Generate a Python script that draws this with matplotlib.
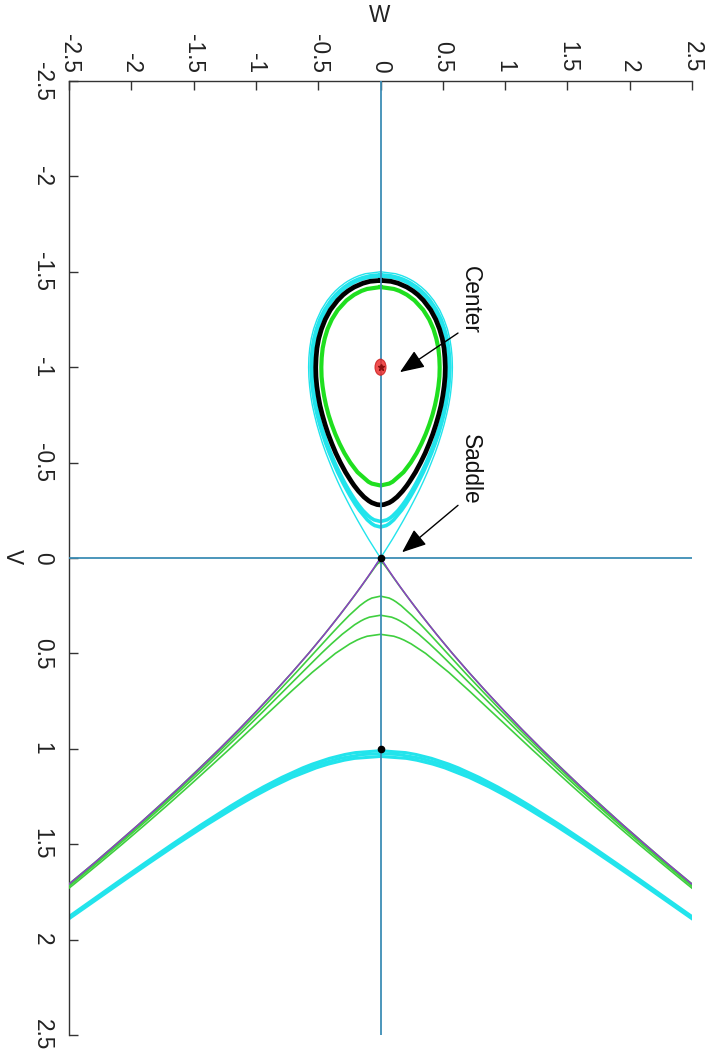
import numpy as np
import matplotlib
matplotlib.use('Agg')
import matplotlib.pyplot as plt
from matplotlib.patches import Ellipse

plt.rcParams['font.family'] = ['Liberation Sans', 'DejaVu Sans']

# ---- data (V down the page, W across) ----
TICKS = [-2.5, -2, -1.5, -1, -0.5, 0, 0.5, 1, 1.5, 2, 2.5]
TICK_LABELS = ['-2.5', '-2', '-1.5', '-1', '-0.5', '0', '0.5', '1', '1.5', '2', '2.5']

# closed orbits around the center (W >= 0 half, mirrored for W <= 0)
GREEN_LOOP_V = [-1.42, -1.41, -1.40, -1.38, -1.35, -1.30, -1.25, -1.20, -1.15, -1.10, -1.05, -1.00,
                -0.95, -0.90, -0.85, -0.80, -0.75, -0.70, -0.65, -0.60, -0.55, -0.50, -0.45, -0.40,
                -0.39, -0.38]
GREEN_LOOP_W = [0.0, 0.108, 0.152, 0.211, 0.273, 0.343, 0.391, 0.425, 0.448, 0.464, 0.472, 0.475,
                0.473, 0.465, 0.453, 0.437, 0.417, 0.392, 0.363, 0.329, 0.290, 0.243, 0.185, 0.098,
                0.070, 0.0]

BLACK_LOOP_V = [-1.455, -1.45, -1.44, -1.42, -1.40, -1.38, -1.35, -1.30, -1.25, -1.20, -1.15, -1.10,
                -1.05, -1.00, -0.95, -0.90, -0.85, -0.80, -0.75, -0.70, -0.65, -0.60, -0.55, -0.50,
                -0.45, -0.40, -0.38, -0.35, -0.32, -0.30, -0.29, -0.28, -0.278]
BLACK_LOOP_W = [0.0, 0.084, 0.141, 0.211, 0.260, 0.299, 0.345, 0.403, 0.444, 0.474, 0.496, 0.510,
                0.517, 0.520, 0.518, 0.511, 0.500, 0.486, 0.467, 0.445, 0.420, 0.391, 0.359, 0.322,
                0.281, 0.233, 0.212, 0.176, 0.133, 0.095, 0.070, 0.028, 0.0]

CYAN_LOOP_A_V = [-1.478, -1.47, -1.46, -1.45, -1.44, -1.42, -1.40, -1.38, -1.35, -1.30, -1.25, -1.20,
                 -1.15, -1.10, -1.05, -1.00, -0.95, -0.90, -0.85, -0.80, -0.75, -0.70, -0.65, -0.60,
                 -0.55, -0.50, -0.45, -0.40, -0.38, -0.35, -0.32, -0.30, -0.28, -0.25, -0.22, -0.21,
                 -0.20, -0.1915]
CYAN_LOOP_A_W = [0.0, 0.106, 0.158, 0.195, 0.226, 0.275, 0.314, 0.347, 0.388, 0.440, 0.478, 0.506,
                 0.526, 0.539, 0.547, 0.549, 0.547, 0.540, 0.530, 0.516, 0.499, 0.479, 0.455, 0.429,
                 0.399, 0.367, 0.331, 0.292, 0.275, 0.249, 0.220, 0.200, 0.178, 0.142, 0.096, 0.077,
                 0.052, 0.0]

CYAN_LOOP_B_V = [-1.484, -1.48, -1.47, -1.46, -1.45, -1.44, -1.42, -1.40, -1.38, -1.35, -1.30, -1.25,
                 -1.20, -1.15, -1.10, -1.05, -1.00, -0.95, -0.90, -0.85, -0.80, -0.75, -0.70, -0.65,
                 -0.60, -0.55, -0.50, -0.45, -0.40, -0.38, -0.35, -0.32, -0.30, -0.28, -0.25, -0.20,
                 -0.18, -0.17, -0.1625]
CYAN_LOOP_B_W = [0.0, 0.076, 0.140, 0.183, 0.216, 0.244, 0.290, 0.327, 0.359, 0.398, 0.449, 0.487,
                 0.514, 0.534, 0.547, 0.554, 0.557, 0.554, 0.548, 0.538, 0.525, 0.508, 0.488, 0.465,
                 0.439, 0.410, 0.378, 0.344, 0.306, 0.290, 0.265, 0.239, 0.220, 0.201, 0.169, 0.106,
                 0.071, 0.046, 0.0]

# separatrix loop through the saddle (thin cyan), crossing just past it
SEP_V = [-1.50, -1.49, -1.48, -1.47, -1.46, -1.45, -1.44, -1.42, -1.40, -1.38, -1.35, -1.30, -1.25,
         -1.20, -1.15, -1.10, -1.05, -1.00, -0.95, -0.90, -0.85, -0.80, -0.75, -0.70, -0.65, -0.60,
         -0.55, -0.50, -0.45, -0.40, -0.35, -0.30, -0.25, -0.20, -0.15, -0.10, -0.05, 0.0, 0.04]
SEP_W = [0.0, 0.122, 0.171, 0.208, 0.238, 0.265, 0.288, 0.328, 0.362, 0.390, 0.427, 0.475, 0.510,
         0.537, 0.556, 0.568, 0.575, 0.577, 0.575, 0.569, 0.560, 0.547, 0.530, 0.511, 0.489, 0.465,
         0.438, 0.408, 0.377, 0.343, 0.307, 0.268, 0.228, 0.186, 0.142, 0.097, 0.049, 0.0, -0.041]

# open trajectories below the saddle (W >= 0 half, mirrored)
PURPLE_V = [0.0, 0.05, 0.10, 0.15, 0.20, 0.25, 0.30, 0.35, 0.40, 0.45, 0.50, 0.60, 0.70, 0.80, 0.90,
            1.00, 1.10, 1.20, 1.30, 1.40, 1.50, 1.60, 1.70, 1.80]
PURPLE_W = [0.0, 0.051, 0.103, 0.157, 0.213, 0.270, 0.329, 0.389, 0.450, 0.513, 0.577, 0.710, 0.848,
            0.991, 1.138, 1.291, 1.448, 1.610, 1.776, 1.947, 2.121, 2.300, 2.483, 2.670]

GREEN_A_V = [0.02, 0.03, 0.05, 0.10, 0.15, 0.20, 0.30, 0.40, 0.50, 0.60, 0.70, 0.80, 0.90, 1.00, 1.20,
             1.40, 1.60, 1.80]
GREEN_A_W = [0.0, 0.023, 0.047, 0.101, 0.156, 0.212, 0.328, 0.450, 0.577, 0.710, 0.848, 0.990, 1.138,
             1.291, 1.610, 1.947, 2.300, 2.670]

GREEN_B_V = [0.20, 0.21, 0.22, 0.23, 0.25, 0.30, 0.35, 0.40, 0.45, 0.50, 0.60, 0.70, 0.80, 0.90, 1.00,
             1.10, 1.20, 1.30, 1.40, 1.50, 1.60, 1.70, 1.80]
GREEN_B_W = [0.0, 0.070, 0.101, 0.125, 0.166, 0.250, 0.325, 0.397, 0.467, 0.537, 0.677, 0.821, 0.968,
             1.118, 1.273, 1.433, 1.596, 1.763, 1.935, 2.111, 2.290, 2.474, 2.661]

GREEN_C_V = [0.30, 0.31, 0.32, 0.33, 0.35, 0.40, 0.45, 0.50, 0.60, 0.70, 0.80, 0.90, 1.00, 1.10, 1.20,
             1.30, 1.40, 1.50, 1.60, 1.70, 1.80]
GREEN_C_W = [0.0, 0.089, 0.128, 0.158, 0.208, 0.308, 0.394, 0.475, 0.629, 0.782, 0.935, 1.090, 1.249,
             1.410, 1.576, 1.746, 1.919, 2.096, 2.277, 2.461, 2.650]

GREEN_D_V = [0.40, 0.41, 0.42, 0.43, 0.45, 0.50, 0.60, 0.70, 0.80, 0.90, 1.00, 1.10, 1.20, 1.30, 1.40,
             1.50, 1.60, 1.70, 1.80]
GREEN_D_W = [0.0, 0.107, 0.152, 0.188, 0.246, 0.362, 0.549, 0.718, 0.882, 1.046, 1.210, 1.377, 1.546,
             1.718, 1.894, 2.073, 2.256, 2.442, 2.632]

CYAN_LOW_A_V = [1.01, 1.02, 1.03, 1.05, 1.08, 1.10, 1.15, 1.20, 1.25, 1.30, 1.40, 1.50, 1.60, 1.70,
                1.80, 1.90]
CYAN_LOW_A_W = [0.0, 0.202, 0.287, 0.409, 0.547, 0.625, 0.793, 0.941, 1.076, 1.203, 1.443, 1.671,
                1.893, 2.112, 2.328, 2.545]

CYAN_LOW_B_V = [1.025, 1.03, 1.05, 1.08, 1.10, 1.15, 1.20, 1.25, 1.30, 1.40, 1.50, 1.60, 1.70, 1.80,
                1.90]
CYAN_LOW_B_W = [0.0, 0.144, 0.325, 0.488, 0.573, 0.754, 0.907, 1.047, 1.177, 1.422, 1.653, 1.877,
                2.097, 2.315, 2.533]

CYAN_LOW_C_V = [1.04, 1.05, 1.06, 1.08, 1.10, 1.15, 1.20, 1.25, 1.30, 1.40, 1.50, 1.60, 1.70, 1.80,
                1.90]
CYAN_LOW_C_W = [0.0, 0.207, 0.293, 0.418, 0.516, 0.711, 0.872, 1.016, 1.150, 1.399, 1.634, 1.860,
                2.082, 2.301, 2.520]

# equilibrium / start points (W, V)
CENTER_PT = (0.0, -1.0)
BLACK_DOTS_W = [0.0, 0.0]
BLACK_DOTS_V = [0.0, 1.0]

# annotations: (text, text pos, arrow tail, arrow head) in (W, V)
NOTES = [
    ('Center', (0.72, -1.351), (0.622, -1.179), (0.156, -0.974)),
    ('Saddle', (0.72, -0.465), (0.622, -0.276), (0.173, -0.030)),
]

CYAN = '#22e4ec'
GREEN = '#1fdf1f'
GREEN_THIN = '#3fcf3f'
PURPLE = '#8d3cc4'
AXLINE = '#3d8db5'
FS = 16.3


def loop_xy(v, w):
    v = np.asarray(v)
    w = np.asarray(w)
    x = np.concatenate([w, -w[::-1]])
    y = np.concatenate([v, v[::-1]])
    return x, y


def open_xy(v, w):
    v = np.asarray(v)
    w = np.asarray(w)
    x = np.concatenate([-w[::-1], w])
    y = np.concatenate([v[::-1], v])
    return x, y


fig = plt.figure(figsize=(7.08, 10.54), dpi=100)
ax = fig.add_axes([69 / 708, 19 / 1054, 623 / 708, 954 / 1054])

# loops around the center
for v, w in [(CYAN_LOOP_B_V, CYAN_LOOP_B_W), (CYAN_LOOP_A_V, CYAN_LOOP_A_W)]:
    x, y = loop_xy(v, w)
    ax.plot(x, y, color=CYAN, lw=2.6, zorder=2)
sv = np.asarray(SEP_V)
sw = np.asarray(SEP_W)
ax.plot(sw, sv, color=CYAN, lw=1.0, zorder=2)
ax.plot(-sw, sv, color=CYAN, lw=1.0, zorder=2)

x, y = loop_xy(BLACK_LOOP_V, BLACK_LOOP_W)
ax.plot(x, y, color='black', lw=3.4, zorder=3)
x, y = loop_xy(GREEN_LOOP_V, GREEN_LOOP_W)
ax.plot(x, y, color=GREEN, lw=3.0, zorder=3)

# open trajectories
for v, w in [(CYAN_LOW_A_V, CYAN_LOW_A_W), (CYAN_LOW_B_V, CYAN_LOW_B_W),
             (CYAN_LOW_C_V, CYAN_LOW_C_W)]:
    x, y = open_xy(v, w)
    ax.plot(x, y, color=CYAN, lw=2.2, zorder=2)
for v, w in [(GREEN_A_V, GREEN_A_W), (GREEN_B_V, GREEN_B_W), (GREEN_C_V, GREEN_C_W),
             (GREEN_D_V, GREEN_D_W)]:
    x, y = open_xy(v, w)
    ax.plot(x, y, color=GREEN_THIN, lw=1.2, zorder=3)
x, y = open_xy(PURPLE_V, PURPLE_W)
ax.plot(x, y, color=PURPLE, lw=1.1, zorder=3)

# axis lines through the origin
ax.axhline(0, color=AXLINE, lw=1.3, zorder=4)
ax.axvline(0, color=AXLINE, lw=1.3, zorder=4)

# equilibria
ax.add_patch(Ellipse(CENTER_PT, 0.088, 0.084, facecolor='#ee3030', edgecolor='#cc2020',
                     alpha=0.85, lw=0.8, zorder=5))
ax.plot([CENTER_PT[0]], [CENTER_PT[1]], marker='*', color='#8a1010', ms=5, zorder=6)
ax.plot(BLACK_DOTS_W, BLACK_DOTS_V, 'o', color='black', ms=4.5, zorder=6)

for text, tpos, tail, head in NOTES:
    ax.text(tpos[0], tpos[1], text, rotation=-90, ha='center', va='center', fontsize=FS,
            color='#111111')
    ax.annotate('', xy=head, xytext=tail,
                arrowprops=dict(arrowstyle='-|>,head_length=0.75,head_width=0.3', color='black',
                                lw=1.0, shrinkA=0, shrinkB=0, mutation_scale=20), zorder=7)

ax.set_xlim(-2.5, 2.5)
ax.set_ylim(2.5, -2.5)
ax.set_xticks(TICKS)
ax.set_xticklabels(TICK_LABELS, rotation=-90)
ax.set_yticks(TICKS)
ax.set_yticklabels(TICK_LABELS, rotation=-90, va='center')
ax.tick_params(axis='x', top=True, bottom=False, labeltop=True, labelbottom=False,
               direction='in', length=6.5, width=1.0, pad=6.0, labelsize=FS,
               color='#333333', labelcolor='#222222')
ax.tick_params(axis='y', left=True, right=False, direction='in', length=6.5, width=1.0,
               pad=11.0, labelsize=FS, color='#333333', labelcolor='#222222')
for side in ['right', 'bottom']:
    ax.spines[side].set_visible(False)
for side in ['left', 'top']:
    ax.spines[side].set_color('#333333')
    ax.spines[side].set_linewidth(1.0)

fig.text(380 / 708, 1 - 15 / 1054, 'W', ha='center', va='center', fontsize=FS, color='#222222')
fig.text(12 / 708, 1 - 557 / 1054, 'V', ha='center', va='center', rotation=-90, fontsize=FS,
         color='#222222')

fig.savefig('out.png', dpi=100)
